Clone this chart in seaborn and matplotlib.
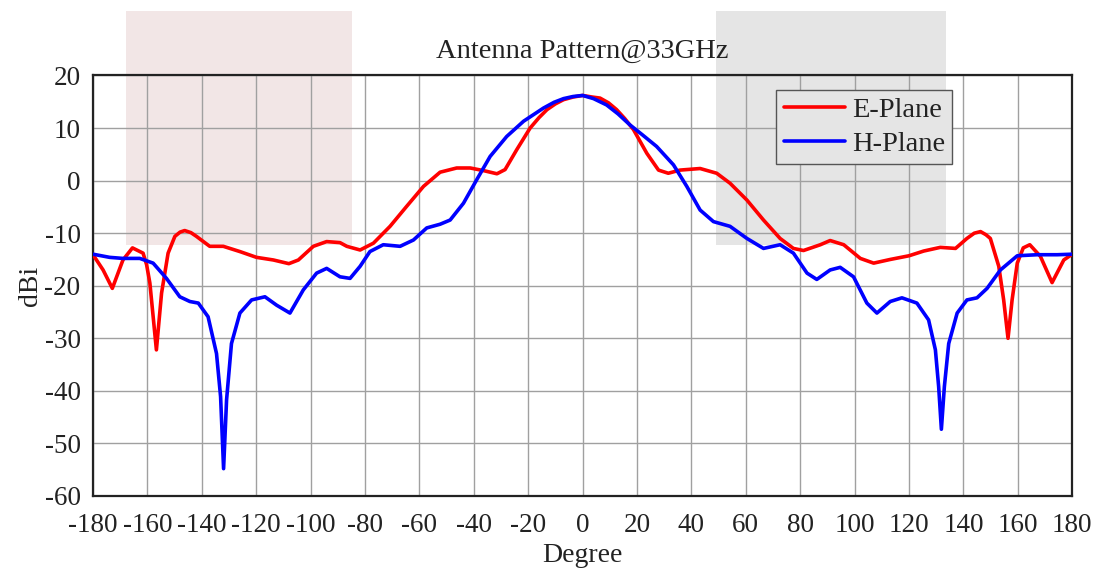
import pandas as pd
import matplotlib
matplotlib.use('Agg')
import matplotlib.pyplot as plt
import seaborn as sns
from matplotlib.patches import Rectangle

# E-plane pattern (deg, dBi)
e_deg = [-180, -176.3, -172.9, -169.0, -165.5, -161.6, -160.3, -159.1, -156.7, -154.8, -152.4,
         -149.9, -148.0, -146.3, -144.0, -142.0, -137.1, -132.1, -126.0, -119.9, -113.7, -108.0, -104.5,
         -99.0, -94.1, -89.2, -86.7, -81.8, -76.9, -70.8, -64.7, -58.5, -52.4,
         -46.3, -41.3, -36.4, -31.5, -28.5, -24.2, -19.3, -16.0, -13.1, -10.0, -7.0, -3.5, 0,
         3.5, 6.4, 9.5, 12.5, 15.5, 18.7, 23.6, 27.9, 31.5, 35.8, 43.2, 49.3, 54.2,
         60.4, 66.5, 72.6, 77.5, 81.2, 87.4, 91.0, 96.0, 102.1, 107.0,
         113.1, 120.0, 125.4, 131.5, 137.1, 141.3, 144.0, 146.3, 148.3, 149.9, 153.0, 154.8,
         156.4, 157.9, 159.8, 162.0, 164.4, 168.3, 172.6, 176.9, 180]
e_gain = [-14.1, -17.0, -20.5, -15.1, -12.8, -13.8, -16.0, -19.5, -32.2, -21.4, -13.8,
          -10.6, -9.8, -9.5, -9.9, -10.6, -12.5, -12.5, -13.5, -14.6, -15.1, -15.8, -15.1,
          -12.5, -11.6, -11.8, -12.5, -13.2, -11.9, -8.7, -4.9, -1.1, 1.6,
          2.4, 2.4, 1.9, 1.3, 2.1, 5.9, 10.0, 12.0, 13.5, 14.6, 15.4, 15.9, 16.2,
          15.9, 15.7, 14.8, 13.5, 11.8, 9.7, 5.2, 2.0, 1.4, 2.0, 2.3, 1.4, -0.5,
          -3.7, -7.5, -11.0, -12.9, -13.3, -12.2, -11.4, -12.2, -14.8, -15.7,
          -15.0, -14.3, -13.4, -12.7, -12.9, -11.0, -10.0, -9.7, -10.3, -11.0, -16.3, -22.7,
          -30.0, -22.7, -15.7, -12.8, -12.2, -14.4, -19.4, -15.1, -14.0]

# H-plane pattern
h_deg = [-180, -173.9, -169.0, -162.8, -157.9, -153.0, -148.1, -144.4, -141.3, -137.7,
         -134.6, -133.1, -132.0, -130.9, -129.1, -126.0, -121.7, -116.8, -112.5, -107.6,
         -102.7, -97.8, -94.1, -89.2, -85.5, -81.8, -78.2, -73.3, -67.1, -62.2,
         -57.3, -52.4, -48.7, -43.8, -38.9, -34.0, -27.9, -21.7, -14.4, -10.5, -7.0, -3.5,
         0, 4.0, 8.8, 13.0, 17.4, 22.0, 27.2, 33.4, 38.3, 43.2, 48.1, 54.2, 60.4,
         66.5, 72.6, 77.5, 82.5, 86.1, 91.0, 94.7, 99.6, 104.5, 108.2,
         113.1, 117.4, 122.9, 127.2, 129.7, 130.9, 131.9, 133.0, 134.6, 137.7,
         141.3, 145.0, 148.7, 153.6, 159.8, 167.1, 174.5, 180]
h_gain = [-14.0, -14.6, -14.8, -14.8, -15.7, -18.6, -22.1, -23.0, -23.3, -25.9,
          -32.9, -41.1, -54.8, -41.7, -31.0, -25.2, -22.7, -22.1, -23.7, -25.2,
          -20.8, -17.6, -16.7, -18.3, -18.6, -16.3, -13.5, -12.2, -12.5, -11.3,
          -9.0, -8.3, -7.5, -4.3, 0.2, 4.6, 8.4, 11.3, 13.8, 14.9, 15.6, 16.0,
          16.2, 15.6, 14.4, 12.7, 10.6, 8.7, 6.5, 3.0, -1.1, -5.6, -7.8, -8.7, -11.0,
          -12.9, -12.2, -13.8, -17.6, -18.8, -17.0, -16.5, -18.3, -23.3, -25.2,
          -23.0, -22.3, -23.3, -26.5, -32.2, -39.2, -47.3, -39.2, -31.0, -25.2,
          -22.7, -22.3, -20.5, -17.0, -14.3, -14.1, -14.1, -14.0]

x_ticks = list(range(-180, 181, 20))
y_ticks = list(range(-60, 21, 10))

df = pd.concat([
    pd.DataFrame({'Degree': e_deg, 'dBi': e_gain, 'plane': 'E-Plane'}),
    pd.DataFrame({'Degree': h_deg, 'dBi': h_gain, 'plane': 'H-Plane'}),
])

sns.set_style('whitegrid')
plt.rcParams['font.family'] = ['Liberation Serif', 'DejaVu Serif']
plt.rcParams['text.color'] = '#222222'
plt.rcParams['axes.labelcolor'] = '#222222'
plt.rcParams['xtick.color'] = '#222222'
plt.rcParams['ytick.color'] = '#222222'

fig = plt.figure(figsize=(10.97, 5.74), dpi=100)
ax = fig.add_axes([0.0848, 0.1359, 0.8926, 0.7326])
ax.set_facecolor('none')

# shaded bands behind the plot, spilling over the top
ax.add_patch(Rectangle((-167.9, -12.2), 83.1, 44.5, facecolor='#f2e6e6',
                       edgecolor='none', zorder=0.1, clip_on=False))
ax.add_patch(Rectangle((49.1, -12.2), 84.6, 44.5, facecolor='#e5e5e5',
                       edgecolor='none', zorder=0.1, clip_on=False))

sns.lineplot(data=df, x='Degree', y='dBi', hue='plane', sort=False,
             palette={'E-Plane': '#ff0000', 'H-Plane': '#0000ff'},
             linewidth=2.6, ax=ax, zorder=3)

ax.set_xlim(-180, 180)
ax.set_ylim(-60, 20)
ax.set_xticks(x_ticks)
ax.set_yticks(y_ticks)
ax.set_xticklabels([str(t) for t in x_ticks])
ax.set_yticklabels([str(t) for t in y_ticks])
ax.tick_params(length=0, labelsize=19.5)
ax.tick_params(axis='x', pad=12)
ax.tick_params(axis='y', pad=9)
ax.grid(True, color='#a0a0a0', linewidth=1.0)
for s in ax.spines.values():
    s.set_visible(True)
    s.set_color('#222222')
    s.set_linewidth(1.6)

ax.set_title('Antenna Pattern@33GHz', fontsize=20.5, pad=13)
ax.set_xlabel('Degree', fontsize=20, labelpad=4)
ax.set_ylabel('dBi', fontsize=20, labelpad=1)

leg = ax.legend(loc='upper left', bbox_to_anchor=(0.698, 0.966), borderaxespad=0,
                fontsize=20.5, frameon=True, fancybox=False, framealpha=1,
                facecolor='#e5e5e5', edgecolor='#555555', handlelength=2.15,
                handletextpad=0.25, borderpad=0.25, labelspacing=0.3, title=None)
leg.get_frame().set_linewidth(1.0)

fig.savefig('out.png', dpi=100)
